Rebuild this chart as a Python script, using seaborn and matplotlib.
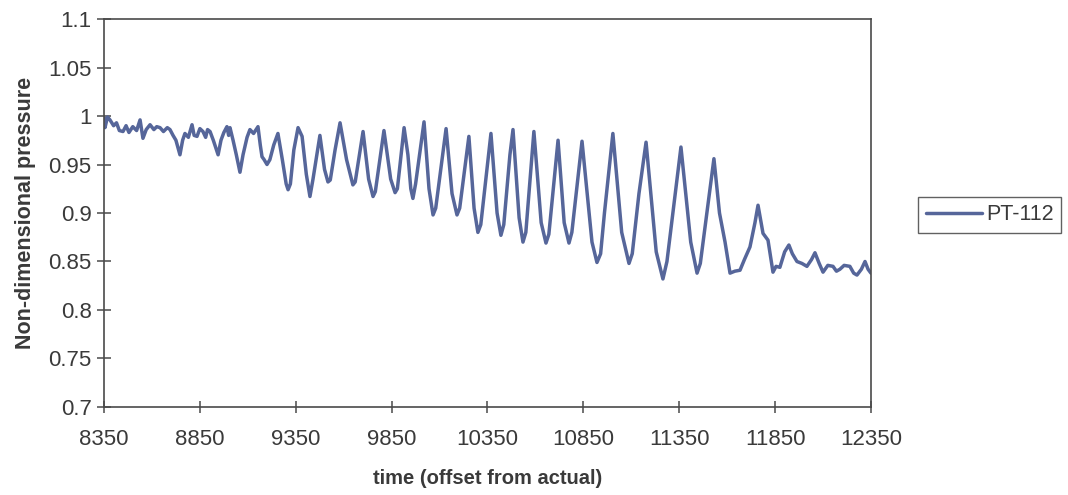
import matplotlib
matplotlib.use("Agg")
import matplotlib.pyplot as plt
import seaborn as sns
import pandas as pd

# PT-112 pressure trace (time offset, non-dimensional pressure)
time = [
    8350, 8355, 8368, 8381, 8400, 8415, 8430, 8449, 8465, 8480,
    8500, 8520, 8538, 8553, 8570, 8590, 8610, 8625, 8642, 8660,
    8680, 8694, 8710, 8725, 8746, 8760, 8772, 8790, 8809, 8820,
    8835, 8850, 8866, 8880, 8890, 8903, 8920, 8945, 8960, 8975,
    8991, 9000, 9007, 9023, 9040, 9059, 9075, 9096, 9111, 9130,
    9153, 9165, 9174, 9185, 9200, 9215, 9235, 9257, 9280, 9300,
    9310, 9322, 9340, 9362, 9383, 9405, 9424, 9440, 9476, 9500,
    9518, 9530, 9555, 9581, 9615, 9648, 9660, 9701, 9730, 9753,
    9765, 9810, 9845, 9868, 9880, 9915, 9935, 9950, 9961, 9975,
    10019, 10045, 10066, 10080, 10134, 10165, 10191, 10205, 10253, 10280,
    10300, 10315, 10368, 10400, 10420, 10435, 10467, 10483, 10515, 10535,
    10550, 10592, 10630, 10655, 10670, 10718, 10750, 10775, 10790, 10843,
    10895, 10921, 10940, 10960, 11004, 11050, 11088, 11105, 11140, 11177,
    11230, 11265, 11286, 11359, 11410, 11443, 11460, 11531, 11560, 11589,
    11615, 11640, 11667, 11690, 11719, 11745, 11761, 11787, 11813, 11839,
    11855, 11875, 11900, 11922, 11940, 11964, 11990, 12016, 12040, 12058,
    12080, 12100, 12125, 12152, 12170, 12188, 12210, 12240, 12260, 12277,
    12300, 12319, 12335, 12350,
]
pressure = [
    0.998, 0.988, 0.999, 0.996, 0.990, 0.993, 0.985, 0.984, 0.990, 0.983,
    0.989, 0.985, 0.996, 0.977, 0.986, 0.991, 0.986, 0.989, 0.988, 0.984,
    0.988, 0.986, 0.980, 0.975, 0.960, 0.975, 0.982, 0.978, 0.991, 0.980,
    0.979, 0.987, 0.984, 0.978, 0.986, 0.984, 0.975, 0.960, 0.975, 0.983,
    0.989, 0.980, 0.988, 0.975, 0.960, 0.942, 0.960, 0.978, 0.986, 0.982,
    0.989, 0.970, 0.958, 0.955, 0.950, 0.955, 0.970, 0.982, 0.955, 0.930,
    0.924, 0.930, 0.965, 0.988, 0.979, 0.940, 0.917, 0.935, 0.980, 0.945,
    0.932, 0.934, 0.965, 0.993, 0.955, 0.929, 0.932, 0.984, 0.935, 0.917,
    0.922, 0.985, 0.935, 0.921, 0.925, 0.988, 0.960, 0.925, 0.915, 0.930,
    0.994, 0.925, 0.898, 0.905, 0.987, 0.920, 0.898, 0.905, 0.979, 0.905,
    0.880, 0.888, 0.982, 0.900, 0.877, 0.888, 0.960, 0.986, 0.895, 0.870,
    0.880, 0.984, 0.890, 0.869, 0.878, 0.975, 0.890, 0.869, 0.880, 0.974,
    0.870, 0.849, 0.858, 0.900, 0.982, 0.880, 0.848, 0.858, 0.920, 0.973,
    0.860, 0.832, 0.850, 0.968, 0.870, 0.838, 0.848, 0.956, 0.900, 0.870,
    0.838, 0.840, 0.841, 0.852, 0.865, 0.890, 0.908, 0.879, 0.872, 0.839,
    0.845, 0.844, 0.860, 0.867, 0.858, 0.850, 0.848, 0.845, 0.852, 0.859,
    0.848, 0.839, 0.846, 0.845, 0.840, 0.842, 0.846, 0.845, 0.838, 0.836,
    0.842, 0.850, 0.842, 0.838,
]
series_name = "PT-112"

x_ticks = [8350, 8850, 9350, 9850, 10350, 10850, 11350, 11850, 12350]
y_ticks = [0.7, 0.75, 0.8, 0.85, 0.9, 0.95, 1.0, 1.05, 1.1]
y_tick_labels = ["0.7", "0.75", "0.8", "0.85", "0.9", "0.95", "1", "1.05", "1.1"]

sns.set_style("white")
plt.rcParams["font.family"] = ["Liberation Sans", "DejaVu Sans"]

df = pd.DataFrame({"time": time, "pressure": pressure})

fig = plt.figure(figsize=(10.68, 4.95), dpi=100)
ax = fig.add_axes([0.0974, 0.1778, 0.7181, 0.7838])

sns.lineplot(data=df, x="time", y="pressure", ax=ax, color="#56669a",
             linewidth=2.5, label=series_name)

ax.set_xlim(8350, 12350)
ax.set_ylim(0.7, 1.1)
ax.set_xticks(x_ticks)
ax.set_xticklabels([str(t) for t in x_ticks])
ax.set_yticks(y_ticks)
ax.set_yticklabels(y_tick_labels)

text_color = "#3a3a3a"
for side in ["left", "right", "top", "bottom"]:
    ax.spines[side].set_color("#4a4a4a")
    ax.spines[side].set_linewidth(1.2)

ax.tick_params(axis="x", bottom=True, direction="inout", length=9, width=1.1,
               colors="#4a4a4a", labelcolor=text_color, labelsize=16, pad=11)
ax.tick_params(axis="y", left=True, direction="inout", length=10, width=1.1,
               colors="#4a4a4a", labelcolor=text_color, labelsize=16, pad=4)

ax.set_xlabel("time (offset from actual)", fontsize=14.5, fontweight="bold",
              color=text_color, labelpad=14)
ax.set_ylabel("Non-dimensional pressure", fontsize=15.5, fontweight="bold",
              color=text_color, labelpad=9)

leg = ax.legend(loc="center left", bbox_to_anchor=(0.860, 0.566),
                bbox_transform=fig.transFigure, frameon=True, fancybox=False,
                shadow=False, fontsize=15.5, handlelength=2.6, handletextpad=0.2,
                borderpad=0.35, borderaxespad=0)
leg.get_frame().set_edgecolor("#3a3a3a")
leg.get_frame().set_linewidth(1.0)
for t in leg.get_texts():
    t.set_color(text_color)

fig.savefig("out.png", dpi=100)
